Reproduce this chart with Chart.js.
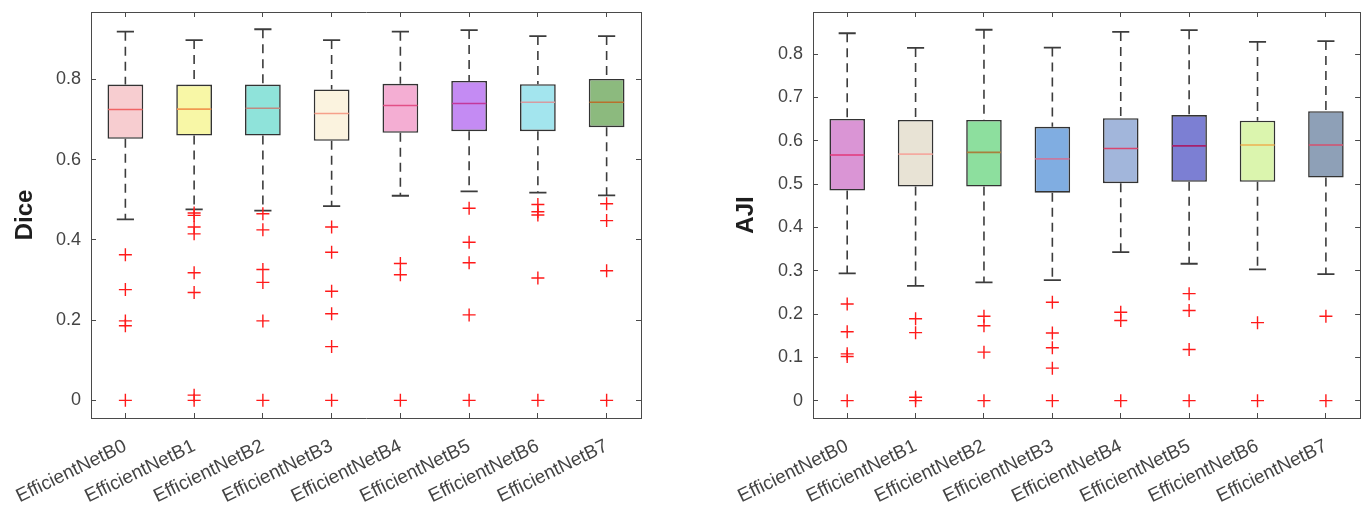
<!DOCTYPE html>
<html>
<head>
<meta charset="utf-8">
<script src="https://cdn.jsdelivr.net/npm/chart.js@4.4.1/dist/chart.umd.min.js"></script>
<style>
  body { margin: 0; background: #fff; }
  .wrap { display: flex; width: 1368px; height: 507px; }
  canvas { display: block; }
</style>
</head>
<body>
<div class="wrap">
  <canvas id="dice" width="684" height="507"></canvas>
  <canvas id="aji" width="684" height="507"></canvas>
</div>
<script>
// ---- data ----
const categories = ['EfficientNetB0', 'EfficientNetB1', 'EfficientNetB2', 'EfficientNetB3',
                    'EfficientNetB4', 'EfficientNetB5', 'EfficientNetB6', 'EfficientNetB7'];

const diceMax    = [0.919, 0.898, 0.925, 0.898, 0.919, 0.923, 0.908, 0.908];
const diceQ3     = [0.787, 0.787, 0.787, 0.775, 0.789, 0.796, 0.788, 0.801];
const diceMedian = [0.725, 0.726, 0.728, 0.715, 0.735, 0.740, 0.743, 0.743];
const diceQ1     = [0.652, 0.660, 0.660, 0.647, 0.667, 0.671, 0.671, 0.681];
const diceMin    = [0.451, 0.476, 0.473, 0.484, 0.510, 0.521, 0.518, 0.511];
const diceOutliers = [
  [0.363, 0.276, 0.198, 0.186, 0],
  [0.467, 0.461, 0.432, 0.415, 0.318, 0.269, 0.013, 0],
  [0.465, 0.425, 0.326, 0.294, 0.198, 0],
  [0.432, 0.369, 0.272, 0.216, 0.134, 0],
  [0.341, 0.313, 0],
  [0.479, 0.394, 0.343, 0.213, 0],
  [0.488, 0.470, 0.462, 0.305, 0],
  [0.490, 0.448, 0.323, 0],
];
const diceTicks = [0, 0.2, 0.4, 0.6, 0.8];

const ajiMax    = [0.848, 0.814, 0.856, 0.815, 0.851, 0.855, 0.828, 0.830];
const ajiQ3     = [0.650, 0.648, 0.648, 0.632, 0.652, 0.659, 0.646, 0.668];
const ajiMedian = [0.567, 0.569, 0.573, 0.558, 0.582, 0.588, 0.590, 0.590];
const ajiQ1     = [0.485, 0.494, 0.494, 0.480, 0.502, 0.505, 0.505, 0.515];
const ajiMin    = [0.294, 0.265, 0.273, 0.278, 0.343, 0.316, 0.303, 0.292];
const ajiOutliers = [
  [0.223, 0.159, 0.108, 0.102, 0],
  [0.189, 0.157, 0.008, 0],
  [0.195, 0.173, 0.112, 0],
  [0.227, 0.156, 0.122, 0.075, 0],
  [0.204, 0.185, 0],
  [0.247, 0.208, 0.118, 0],
  [0.180, 0],
  [0.195, 0],
];
const ajiTicks = [0, 0.1, 0.2, 0.3, 0.4, 0.5, 0.6, 0.7, 0.8];

// ---- colours ----
const diceBoxColors    = ['#f7cdd0', '#f8f7a6', '#8fe3da', '#fbf3df', '#f4aed3', '#c48bf3', '#a3e5ee', '#8cba7e'];
const diceMedianColors = ['#f06464', '#f09a50', '#c08a80', '#f6a08a', '#e24f86', '#c2389c', '#d69ba0', '#b8702c'];
const ajiBoxColors     = ['#da95d5', '#e8e3d5', '#8ddf9e', '#80ade1', '#a2b6db', '#7c7fd3', '#dbf5ae', '#8ea0b7'];
const ajiMedianColors  = ['#e2387a', '#f4aaa0', '#a8803c', '#c67aa0', '#d9456e', '#a6206c', '#eeb050', '#d4506e'];

const FONT = "'Liberation Sans', Arial, sans-serif";
const AXIS = '#4a4a4a';
const CAP_HALF = 0.125;
const MED_HALF = 0.25;

function boxDatasets(s) {
  const whiskers = [], caps = [], medians = [], outliers = [];
  categories.forEach((_, i) => {
    whiskers.push({ x: i, y: s.max[i] }, { x: i, y: s.q3[i] }, { x: i, y: null },
                  { x: i, y: s.q1[i] }, { x: i, y: s.min[i] }, { x: i, y: null });
    caps.push({ x: i - CAP_HALF, y: s.max[i] }, { x: i + CAP_HALF, y: s.max[i] }, { x: i, y: null },
              { x: i - CAP_HALF, y: s.min[i] }, { x: i + CAP_HALF, y: s.min[i] }, { x: i, y: null });
    medians.push({ x: i - MED_HALF, y: s.med[i] }, { x: i + MED_HALF, y: s.med[i] }, { x: i, y: null });
    s.out[i].forEach(v => outliers.push({ x: i, y: v }));
  });

  return [
    {
      type: 'bar',
      data: categories.map((_, i) => ({ x: i, y: [s.q1[i], s.q3[i]] })),
      backgroundColor: s.boxColors,
      borderColor: '#333',
      borderWidth: 1.6,
      borderSkipped: false,
      barPercentage: 0.52,
      categoryPercentage: 1,
      order: 5,
    },
    {
      type: 'line',
      data: whiskers,
      borderColor: '#3c3c3c',
      borderWidth: 1.6,
      borderDash: [9, 6],
      pointRadius: 0,
      spanGaps: false,
      order: 4,
    },
    {
      type: 'line',
      data: caps,
      borderColor: '#3c3c3c',
      borderWidth: 1.8,
      pointRadius: 0,
      spanGaps: false,
      order: 3,
    },
    {
      type: 'line',
      data: medians,
      borderColor: s.medColors[0],
      segment: { borderColor: ctx => s.medColors[Math.floor(ctx.p0DataIndex / 3)] },
      borderWidth: 1.6,
      pointRadius: 0,
      spanGaps: false,
      order: 2,
    },
    {
      type: 'line',
      data: outliers,
      showLine: false,
      pointStyle: 'cross',
      pointRadius: 6.5,
      pointBorderWidth: 1.4,
      pointBorderColor: '#ff1a1a',
      order: 1,
    },
  ];
}

// no extra padding from overhanging tick labels; sizes are set by hand
function fixSize(prop, val) {
  return sc => {
    sc[prop] = val;
    sc.paddingTop = sc.paddingBottom = sc.paddingLeft = sc.paddingRight = 0;
  };
}

function makeChart(id, s) {
  const integerTicks = sc => { sc.ticks = categories.map((_, i) => ({ value: i })); };
  const valueTicks = sc => { sc.ticks = s.ticks.map(v => ({ value: v })); };
  const tickGrid = { drawOnChartArea: false, tickLength: -5, color: AXIS };
  const border = { color: AXIS, width: 1 };

  return new Chart(document.getElementById(id), {
    type: 'bar',
    data: { datasets: boxDatasets(s) },
    options: {
      responsive: false,
      animation: false,
      layout: { padding: 0 },
      plugins: { legend: { display: false }, tooltip: { enabled: false } },
      scales: {
        x: {
          type: 'linear', position: 'bottom', min: -0.5, max: 7.5, offset: false,
          afterBuildTicks: integerTicks,
          afterFit: fixSize('height', 89),
          grid: { ...tickGrid, offset: false },
          border,
          ticks: {
            autoSkip: false, minRotation: 26, maxRotation: 26, padding: 22,
            color: '#444', font: { family: FONT, size: 19 },
            callback: v => categories[v],
          },
        },
        x2: {
          type: 'linear', position: 'top', min: -0.5, max: 7.5, offset: false,
          afterBuildTicks: integerTicks,
          afterFit: fixSize('height', 12),
          grid: { ...tickGrid, offset: false },
          border,
          ticks: { display: false },
        },
        y: {
          type: 'linear', position: 'left', min: s.yMin, max: s.yMax,
          afterBuildTicks: valueTicks,
          afterFit: fixSize('width', s.leftW),
          grid: tickGrid,
          border,
          ticks: {
            padding: 15, color: '#444', font: { family: FONT, size: 18 },
            callback: v => String(Math.round(v * 10) / 10),
          },
          title: {
            display: true, text: s.title, color: '#1e1e1e',
            font: { family: FONT, size: 24, weight: 'bold' },
            padding: { top: s.titlePad, bottom: 0 },
          },
        },
        y2: {
          type: 'linear', position: 'right', min: s.yMin, max: s.yMax,
          afterBuildTicks: valueTicks,
          afterFit: fixSize('width', s.rightW),
          grid: tickGrid,
          border,
          ticks: { display: false },
        },
      },
    },
  });
}

makeChart('dice', {
  max: diceMax, q3: diceQ3, med: diceMedian, q1: diceQ1, min: diceMin, out: diceOutliers,
  ticks: diceTicks, boxColors: diceBoxColors, medColors: diceMedianColors,
  title: 'Dice', yMin: -0.044, yMax: 0.968, leftW: 91, rightW: 43, titlePad: 11,
});

makeChart('aji', {
  max: ajiMax, q3: ajiQ3, med: ajiMedian, q1: ajiQ1, min: ajiMin, out: ajiOutliers,
  ticks: ajiTicks, boxColors: ajiBoxColors, medColors: ajiMedianColors,
  title: 'AJI', yMin: -0.04, yMax: 0.897, leftW: 129, rightW: 6, titlePad: 48,
});
</script>
</body>
</html>
